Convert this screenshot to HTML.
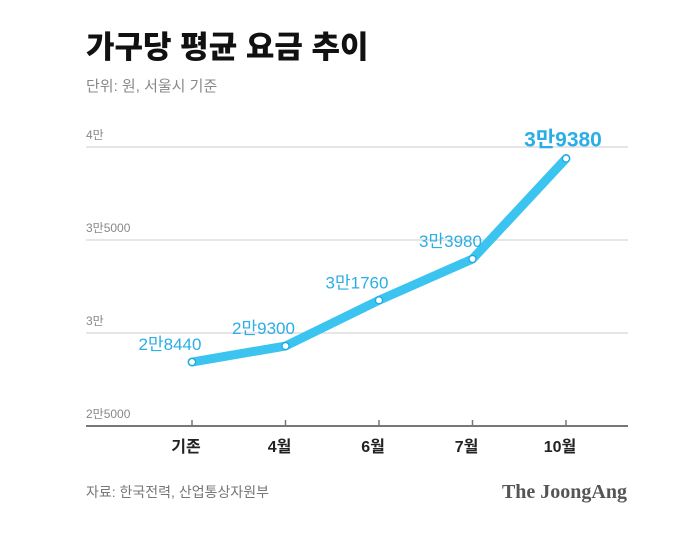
<!DOCTYPE html>
<html><head><meta charset="utf-8"><style>
body{margin:0;background:#fff;width:687px;height:539px;overflow:hidden;font-family:"Liberation Sans","Noto Sans CJK KR",sans-serif}
</style></head><body>
<svg width="687" height="539" xmlns="http://www.w3.org/2000/svg" style="font-family:'Liberation Sans','Noto Sans CJK KR',sans-serif">
<text x="86" y="58" font-size="31" font-weight="900" fill="#111">가구당 평균 요금 추이</text>
<text x="86" y="91" font-size="15" fill="#888">단위: 원, 서울시 기준</text>
<g id="grid"></g><g id="series"></g>
<text x="86" y="497" font-size="14" fill="#777">자료: 한국전력, 산업통상자원부</text>
<text x="627" y="498" font-size="20" font-weight="bold" fill="#555" text-anchor="end" font-family="Liberation Serif,serif">The JoongAng</text>
</svg>
<script>
const categories=["기존","4월","6월","7월","10월"];
const values=[28440,29300,31760,33980,39380];
const valueLabels=["2만8440","2만9300","3만1760","3만3980","3만9380"];
const yTicks=[25000,30000,35000,40000];
const yTickLabels=["2만5000","3만","3만5000","4만"];
const NS="http://www.w3.org/2000/svg";
const y=v=>426-(v-25000)/15000*279;
const x=i=>192+i*93.5;
function mk(t,a,p,txt){const e=document.createElementNS(NS,t);for(const k in a)e.setAttribute(k,a[k]);if(txt!==undefined)e.textContent=txt;p.appendChild(e);return e;}
const g=document.getElementById('grid'),s=document.getElementById('series');
yTicks.forEach((v,i)=>{
 const l=mk('line',{x1:86,x2:628,y1:y(v),y2:y(v),stroke:i==0?'#777':'#ddd','stroke-width':i==0?2:1.5},g);
 
 
 const t=mk('text',{x:86,y:y(v)-8,'font-size':12,fill:'#888'},g,yTickLabels[i]);
 
 
});
categories.forEach((c,i)=>{
 const tk=mk('line',{x1:x(i),x2:x(i),y1:y(25000)-6,y2:y(25000),stroke:'#777','stroke-width':1.5},g);
 
 
 const t=mk('text',{x:x(i)-6,y:452,'font-size':16,'font-weight':'bold',fill:'#222','text-anchor':'middle'},g,c);
 
 
});
const pl=mk('polyline',{points:values.map((v,i)=>x(i)+','+y(v)).join(' '),fill:'none',stroke:'#3cc4f0','stroke-width':9,'stroke-linejoin':'round','stroke-linecap':'round'},s);


values.forEach((v,i)=>{
 const c=mk('circle',{cx:x(i),cy:y(v),r:3.5,fill:'#fff',stroke:'#1aa8dd','stroke-width':1.2},s);
 
 
 const last=i==values.length-1;
 const t=mk('text',{x:x(i)-(last?3:22),y:y(v)-(last?12:12),'font-size':last?21:17,'font-weight':last?'bold':'normal',fill:'#2aaee6','text-anchor':'middle'},s,valueLabels[i]);
 
 
});
</script>
</body></html>
